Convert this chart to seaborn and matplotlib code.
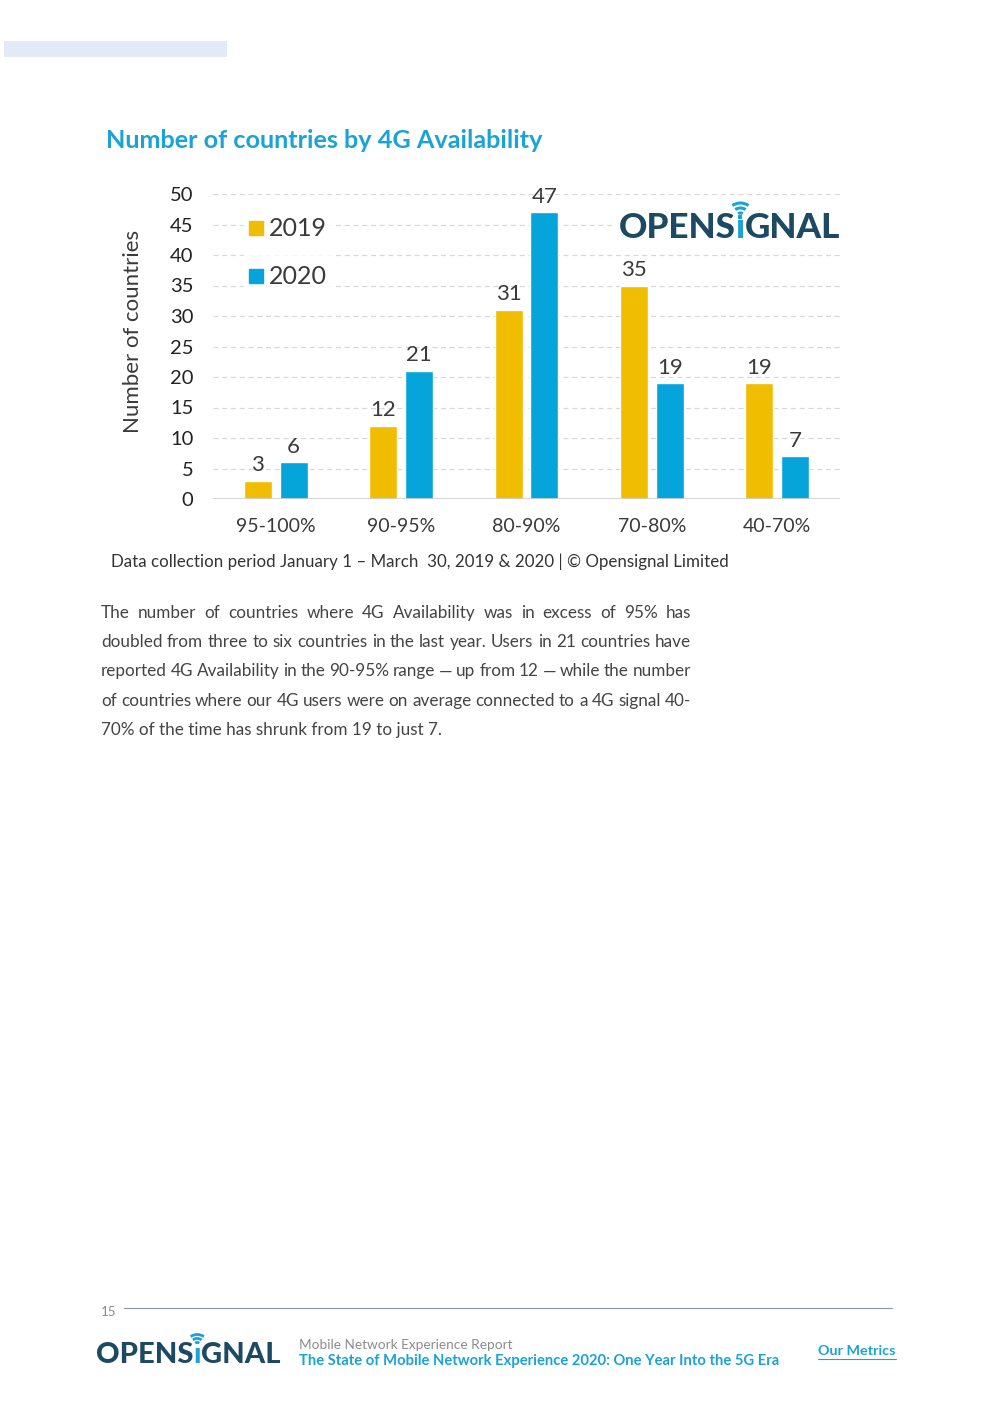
import numpy as np
import pandas as pd
import seaborn as sns
import matplotlib.pyplot as plt
from matplotlib.lines import Line2D
from matplotlib.patches import Rectangle, Arc

# data
bands = ['95-100%', '90-95%', '80-90%', '70-80%', '40-70%']
counts_2019 = [3, 12, 31, 35, 19]
counts_2020 = [6, 21, 47, 19, 7]
years = ['2019', '2020']
y_ticks = [0, 5, 10, 15, 20, 25, 30, 35, 40, 45, 50]

YELLOW = '#f0bd00'
BLUE = '#05a5dc'
TITLE_BLUE = '#1aa3d4'
DARK = '#3a3a3a'
NAVY = '#1d4a63'

W, H = 992, 1403

df = pd.DataFrame({
    'band': bands * 2,
    'count': counts_2019 + counts_2020,
    'year': [years[0]] * len(bands) + [years[1]] * len(bands),
})

sns.set_theme(style='white')
plt.rcParams['font.family'] = ['Lato', 'DejaVu Sans']

fig = plt.figure(figsize=(W / 100, H / 100), dpi=100)


def fx(x):
    return x / W


def fy(y):
    return 1 - y / H


def ftext(x, y, s, **kw):
    return fig.text(fx(x), fy(y), s, **kw)


# light blue bar top left
fig.patches.append(Rectangle((fx(4), fy(57)), fx(227) - fx(4), fy(41) - fy(57),
                             transform=fig.transFigure, color='#e1eaf6', lw=0))

# title
ftext(106, 141, 'Number of countries by 4G Availability', color=TITLE_BLUE,
      fontsize=18.2, fontweight='bold', va='center', ha='left')

# chart
ax = fig.add_axes([fx(213), fy(499), fx(840) - fx(213), (499 - 194) / H])
sns.barplot(data=df, x='band', y='count', hue='year', palette=[YELLOW, BLUE],
            width=0.573, gap=0.22, saturation=1, ax=ax, legend=False)
ax.set_xlim(-0.5, 4.5)
ax.set_ylim(0, 50)
ax.set_yticks(y_ticks)
ax.tick_params(axis='y', labelsize=14.5, labelcolor='#222222', pad=14, length=0)
ax.tick_params(axis='x', labelsize=14, labelcolor='#3a3a3a', pad=14, length=0)
ax.set_xlabel('')
ax.set_ylabel('Number of countries', fontsize=16, color='#3a3a3a')
ax.yaxis.set_label_coords(-0.112, 0.55)
for sp in ax.spines.values():
    sp.set_visible(False)
ax.yaxis.grid(True, color='#d8d8d8', linestyle=(0, (4, 3)), linewidth=0.9)
ax.set_axisbelow(True)
ax.axhline(0, color='#d0d0d0', lw=1.2)
for cont in ax.containers:
    ax.bar_label(cont, padding=4, fontsize=16, color=DARK)

# legend
handles = [Line2D([], [], marker='s', color=c, linestyle='', markersize=10)
           for c in [YELLOW, BLUE]]
leg = fig.legend(handles, years, loc='upper left',
                 bbox_to_anchor=(fx(231), fy(200)), frameon=True,
                 fontsize=18, handlelength=0.6, handletextpad=0.2,
                 labelspacing=1.0, borderpad=0.2, labelcolor=DARK)
leg.get_frame().set_facecolor('white')
leg.get_frame().set_edgecolor('white')

fig.canvas.draw()
renderer = fig.canvas.get_renderer()


def width_px(t):
    return t.get_window_extent(renderer).width


def draw_pieces(x, y, pieces, **kw):
    out = []
    for s, c in pieces:
        t = ftext(x, y, s, color=c, ha='left', va='center', **kw)
        out.append((x, t))
        x += width_px(t)
    return out


# logo in the chart
logo = draw_pieces(619, 228, [('OPENS', NAVY), ('ı', TITLE_BLUE), ('GNAL', NAVY)],
                   fontsize=25.3, fontweight='black')
fig.patches.append(Rectangle((fx(612), fy(248)), fx(845) - fx(612), fy(200) - fy(248),
                             transform=fig.transFigure, color='white', lw=0, zorder=0.5))
ix = logo[1][0] + width_px(logo[1][1]) / 2
for r, lw in [(4, 2.2), (9, 2.2), (14, 2.2)]:
    fig.patches.append(Arc((fx(ix), fy(217)), 2 * r / W, 2 * r / H, theta1=45, theta2=135,
                           transform=fig.transFigure, color=TITLE_BLUE, lw=lw))
fig.patches.append(Rectangle((fx(ix - 2), fy(219)), 4 / W, 4 / H,
                             transform=fig.transFigure, color=TITLE_BLUE, lw=0))

# caption
ftext(111, 562, 'Data collection period January 1 \u2013 March  30, 2019 & 2020 | \u00a9 Opensignal Limited',
      fontsize=12.15, color='#333333', va='center', ha='left')

# justified paragraph
lines = [
    'The number of countries where 4G Availability was in excess of 95% has',
    'doubled from three to six countries in the last year. Users in 21 countries have',
    'reported 4G Availability in the 90-95% range \u2014 up from 12 \u2014 while the number',
    'of countries where our 4G users were on average connected to a 4G signal 40-',
    '70% of the time has shrunk from 19 to just 7.',
]
left, right = 101, 691
for i, line in enumerate(lines):
    y = 613 + i * 29.2
    if i == len(lines) - 1:
        ftext(left, y, line, fontsize=12.3, color='#444444', va='center', ha='left')
        continue
    words = line.split(' ')
    texts = [ftext(left, y, w, fontsize=12.3, color='#444444', va='center', ha='left')
             for w in words]
    widths = [width_px(t) for t in texts]
    gap = (right - left - sum(widths)) / (len(words) - 1)
    x = left
    for t, w in zip(texts, widths):
        t.set_x(fx(x))
        x += w + gap

# footer
ftext(101, 1312, '15', fontsize=9.5, color='#8a8a8a', va='center', ha='left')
fig.lines.append(Line2D([fx(124), fx(892)], [fy(1308), fy(1308)],
                        transform=fig.transFigure, color='#8796ab', lw=0.8))
flogo = draw_pieces(96, 1355, [('OPENS', NAVY), ('ı', TITLE_BLUE), ('GNAL', NAVY)],
                    fontsize=21, fontweight='black')
ix = flogo[1][0] + width_px(flogo[1][1]) / 2
for r in [3.5, 7.5, 11.5]:
    fig.patches.append(Arc((fx(ix), fy(1346)), 2 * r / W, 2 * r / H, theta1=45, theta2=135,
                           transform=fig.transFigure, color=TITLE_BLUE, lw=2))
ftext(299, 1345, 'Mobile Network Experience Report', fontsize=9.8, color='#8c8c8c',
      va='center', ha='left')
ftext(299, 1361, 'The State of Mobile Network Experience 2020: One Year Into the 5G Era',
      fontsize=10.6, color=TITLE_BLUE, va='center', ha='left', fontweight='bold')
om = ftext(818, 1351, 'Our Metrics', fontsize=10.4, color=TITLE_BLUE, va='center', ha='left',
           fontweight='bold')
omw = width_px(om)
fig.lines.append(Line2D([fx(818), fx(818 + omw)], [fy(1359), fy(1359)],
                        transform=fig.transFigure, color=TITLE_BLUE, lw=0.8))

fig.savefig('out.png', dpi=100)
